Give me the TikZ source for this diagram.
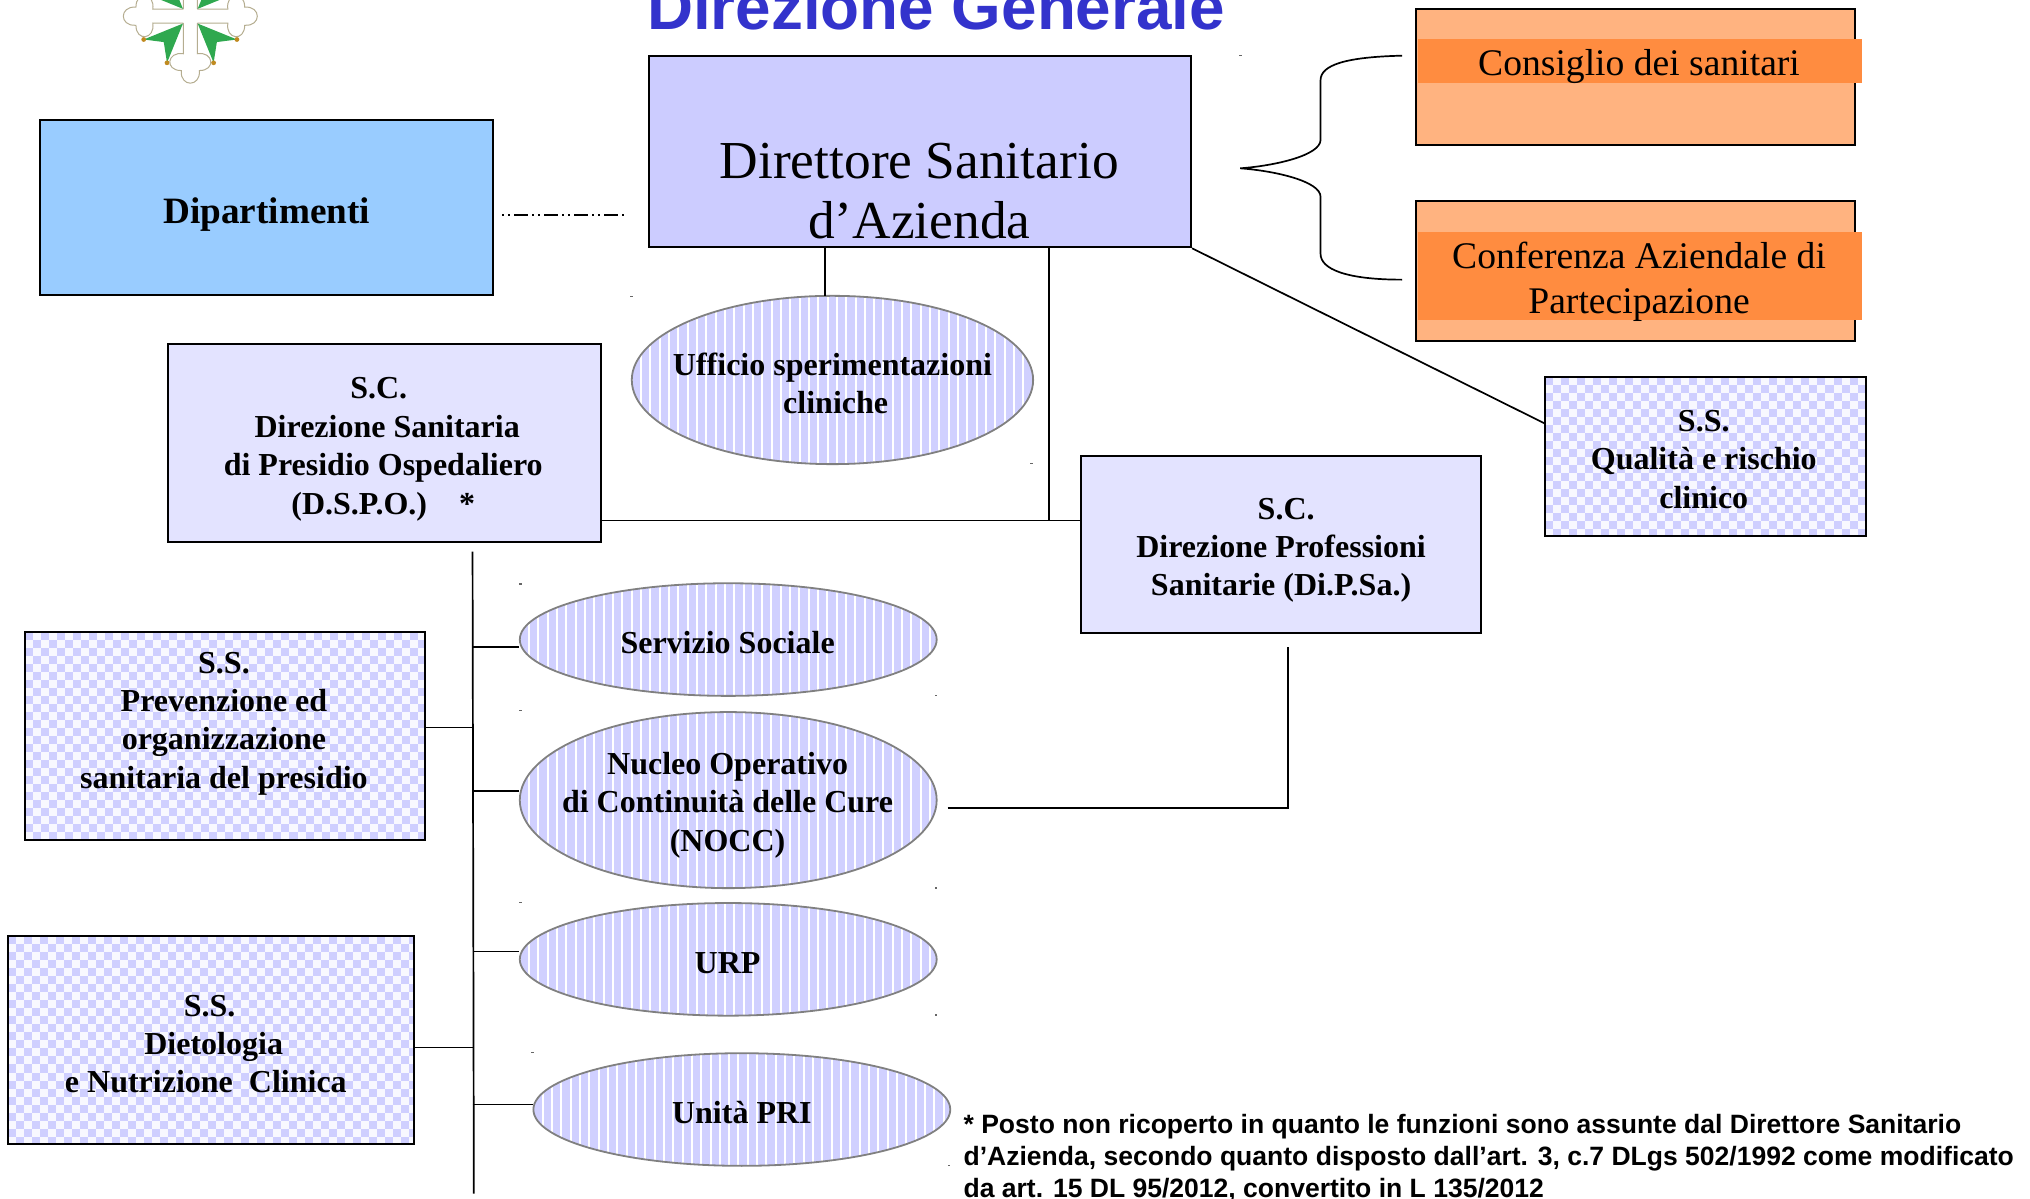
\documentclass[tikz,border=0pt]{standalone}
\usepackage{fontspec}
\setmainfont{Liberation Serif}
\newfontfamily\arialf{Liberation Sans}
\usetikzlibrary{shapes.geometric,calc}
\definecolor{lav}{HTML}{CFCFFF}
\definecolor{lavb}{HTML}{CCCCFF}
\definecolor{palelav}{HTML}{E3E3FF}
\definecolor{skyb}{HTML}{99CCFF}
\definecolor{orl}{HTML}{FFB380}
\definecolor{ord}{HTML}{FF8C40}
\definecolor{titleb}{HTML}{3333CC}
\definecolor{stripe}{HTML}{D0D0FF}
\definecolor{crossg}{HTML}{2FA84F}
\definecolor{crossl}{HTML}{B5AD90}
\definecolor{crossd}{HTML}{C08A20}
\def\uu{0.6473pt}
\tikzset{
  x=0.6473pt,y=-0.6473pt,
  plainbox/.style={draw=black,line width=1pt,anchor=center,align=center,inner sep=0pt},
  bold18/.style={font=\fontsize{16}{19.2}\selectfont\bfseries,inner sep=0pt,align=center},
  checkbox/.style={plainbox,path picture={
    \fill[white!85!lav] (path picture bounding box.south west) rectangle (path picture bounding box.north east);
    \foreach \i in {0,...,26}{\foreach \j in {0,...,13}{
      \fill[lav] ($(path picture bounding box.north west)+(\i*12.4,\j*12.4)$) rectangle +(6.2,6.2);
      \fill[lav] ($(path picture bounding box.north west)+(\i*12.4+6.2,\j*12.4+6.2)$) rectangle +(6.2,6.2);
    }}
  }},
  stripeell/.style={ellipse,draw=black!50,line width=0.9pt,inner sep=0pt,path picture={
    \fill[stripe] (path picture bounding box.south west) rectangle (path picture bounding box.north east);
    \foreach \i in {0,...,46}{
      \draw[white,line width=1pt] ($(path picture bounding box.north west)+(\i*7.2,-1)$) -- +(0,150);
    }
  }},
  conn/.style={draw=black,line width=0.85pt},
  speck/.style={fill=black!60,inner sep=0pt,minimum width=1.4pt,minimum height=0.7pt},
}
\begin{document}
\begin{tikzpicture}
\useasboundingbox (0,0) rectangle (1568,925.4);
\clip (0,0) rectangle (1568,925.4);
% logo
\begin{scope}[shift={(147,12.5)}]
  \foreach \a in {0,90,180,270}{
    \begin{scope}[rotate=\a]
      \path[draw=crossl,fill=white,line width=0.5pt] (-5.4,5.4) -- (-5.4,29) .. controls (-18,27) and (-20,42) .. (-7,42) .. controls (-8,55) and (8,55) .. (7,42) .. controls (20,42) and (18,27) .. (5.4,29) -- (5.4,5.4);
    \end{scope}
  }
  \fill[white] (-5.2,-5.2) rectangle (5.2,5.2);
  \foreach \s in {1,-1}{\foreach \t in {1,-1}{
    \fill[crossg] (\s*5.7,\t*5.7) -- (\s*36,\t*18) -- (\s*20.5,\t*20) -- (\s*18,\t*36) -- cycle;
    \fill[crossd] (\s*36,\t*18) circle[radius=1.2pt];
    \fill[crossd] (\s*18,\t*36) circle[radius=1.2pt];
  }}
\end{scope}
% title
\node[anchor=base,text=titleb,font=\arialf\bfseries\fontsize{31.9}{32}\selectfont,inner sep=0pt] (title) at (723,22.9) {Direzione Generale};
% boxes
\node[plainbox,fill=lavb,minimum width=419*\uu,minimum height=148*\uu] (dir) at (710.5,117) {};
\node[font=\fontsize{26.7}{30}\selectfont,inner sep=0pt,anchor=base] (dirt) at (710,138) {Direttore Sanitario};
\node[font=\fontsize{26.7}{30}\selectfont,inner sep=0pt,anchor=base] (dirtb) at (710,184.5) {d’Azienda};
\node[plainbox,fill=skyb,minimum width=350*\uu,minimum height=135*\uu] (dip) at (206,160.5) {};
\node[font=\fontsize{18.6}{22}\selectfont\bfseries,inner sep=0pt] (dipt) at (206,166) {Dipartimenti};
\node[plainbox,fill=orl,minimum width=339*\uu,minimum height=105*\uu] (cons) at (1263.5,59.5) {};
\fill[ord] (1095,30) rectangle (1438,64);
\node[font=\fontsize{18.8}{23}\selectfont,inner sep=0pt] (const) at (1266,51) {Consiglio dei sanitari};
\node[plainbox,fill=orl,minimum width=339*\uu,minimum height=108*\uu] (conf) at (1263.5,209) {};
\fill[ord] (1095,179) rectangle (1438,247);
\node[font=\fontsize{18.8}{22.5}\selectfont,inner sep=0pt,align=center] (conft) at (1266,218) {Conferenza Aziendale di\\Partecipazione};
\node[plainbox,fill=palelav,minimum width=334*\uu,minimum height=153*\uu] (dspo) at (297,342.5) {};
\node[bold18] (dspot) at (296,347) {S.C.\hspace*{0.28em}\\\ Direzione Sanitaria\\di Presidio Ospedaliero\\(D.S.P.O.) \ \ \ *};
\node[plainbox,fill=palelav,minimum width=309*\uu,minimum height=137*\uu] (dips) at (989.5,420.5) {};
\node[bold18] (dipst) at (989.5,425) {\hspace*{0.32em}S.C.\\Direzione Professioni\\Sanitarie (Di.P.Sa.)};
\node[checkbox,minimum width=248*\uu,minimum height=123*\uu] (qual) at (1317,352.5) {};
\node[bold18] (qualt) at (1316,354.7) {S.S.\\Qualità e rischio\hspace*{0.7em}\\clinico};
\node[checkbox,minimum width=309*\uu,minimum height=161*\uu] (prev) at (173.5,568.5) {};
\node[bold18] (prevt) at (173,558.8) {S.S.\\Prevenzione ed\\organizzazione\hspace*{0.8em}\\sanitaria del presidio};
\node[checkbox,minimum width=314*\uu,minimum height=161*\uu] (diet) at (163,803.5) {};
\node[bold18] (dietc) at (159,806.5) {\hspace*{0.24em}S.S.\\\hspace*{0.49em}Dietologia\\e Nutrizione\ \ Clinica};
% ellipses
\node[stripeell,minimum width=310*\uu,minimum height=130*\uu] (uff) at (643,293.5) {};
\node[bold18] (ufft) at (643,296) {Ufficio sperimentazioni\\\hspace*{0.2em}cliniche};
\node[stripeell,minimum width=322*\uu,minimum height=87*\uu] (serv) at (562.5,494) {};
\node[bold18] (servt) at (562,496) {Servizio Sociale};
\node[stripeell,minimum width=322*\uu,minimum height=136*\uu] (nocc) at (562.5,618) {};
\node[bold18] (nocct) at (562,622) {Nucleo Operativo\\di Continuità delle Cure\\(NOCC)};
\node[stripeell,minimum width=322*\uu,minimum height=87*\uu] (urp) at (562.5,741) {};
\node[bold18] (urpt) at (562,744) {URP};
\node[stripeell,minimum width=322*\uu,minimum height=87*\uu] (pri) at (573,857) {};
\node[bold18] (prit) at (573,859.5) {Unità PRI};
% free ends
\coordinate (sptop) at (365,426);
\coordinate (spbot) at (366,922);
\coordinate (b1) at (365,500);
\coordinate (b2) at (365,611);
\coordinate (b3) at (365,735);
\coordinate (b4) at (365,853);
\coordinate (b5) at (365,562);
\coordinate (b6) at (365,809);
\coordinate (dspoy) at (810,402);
\coordinate (dipsy) at (995,500);
\coordinate (noccy) at (995,624);
\coordinate (noccs) at (732,624);
\coordinate (bt) at (958,130);
\coordinate (bu) at (1083,43);
\coordinate (bl) at (1083,216);
\coordinate (dda) at (388,166);
\coordinate (ddb) at (485,166);
\coordinate (qe) at (1193,327);
\coordinate (uffx) at (637,229);
% connectors
\draw[conn] (sptop) -- (spbot);
\draw[conn] (b1) -- (serv.west |- b1);
\draw[conn] (b2) -- (nocc.west |- b2);
\draw[conn] (b3) -- (urp.west |- b3);
\draw[conn] (b4) -- (pri.west |- b4);
\draw[conn] (prev.east |- b5) -- (b5);
\draw[conn] (diet.east |- b6) -- (b6);
\draw[conn] (dspo.east |- dspoy) -- (dips.west |- dspoy);
\draw[conn] (dir.south -| dspoy) -- (dspoy);
\draw[conn] (dir.south -| uffx) -- (uffx);
\draw[conn] (dir.south east) -- (qe);
\draw[conn] (noccs) -- (noccy) -- (dipsy);
\draw[conn,dash pattern=on 1pt off 2pt on 1pt off 2pt on 7pt off 2pt] (dda) -- (ddb);
\draw[conn] (bu) .. controls (1040,44) and (1020,50) .. (1020,62) -- (1020,108) .. controls (1020,120) and (985,128) .. (bt) .. controls (985,132) and (1020,140) .. (1020,152) -- (1020,196) .. controls (1020,208) and (1040,216) .. (bl);
% note
\node[anchor=north west,inner sep=0pt,align=left,font=\arialf\bfseries\fontsize{13.26}{16.0}\selectfont] (note) at (744,860) {* Posto non ricoperto in quanto le funzioni sono assunte dal Direttore Sanitario\\d’Azienda, secondo quanto disposto dall’art. 3, c.7 DLgs 502/1992 come modificato\\da art. 15 DL 95/2012, convertito in L 135/2012};
% specks
\foreach \p [count=\k] in {(958,43),(488,229),(797,358),(402,451),(402,549),(723,537),(723,686),(402,697),(723,784),(411,813),(733,900)}{
  \node[speck] (s\k) at \p {};
}
\end{tikzpicture}
\end{document}
